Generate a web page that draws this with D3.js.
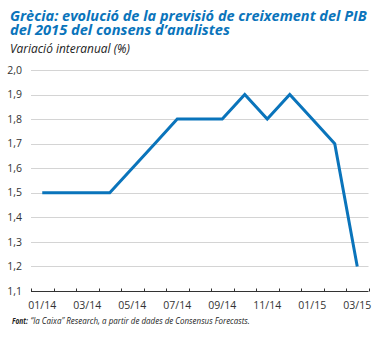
<!DOCTYPE html>
<html>
<head>
<meta charset="utf-8">
<script src="https://cdn.jsdelivr.net/npm/d3@7"></script>
<style>
  body { margin: 0; background: #fff; }
  text { font-family: "Open Sans", "Noto Sans", sans-serif; }
</style>
</head>
<body>
<div id="chart"></div>
<script>
// months on the x axis (band per month)
var months = ["01/14", "02/14", "03/14", "04/14", "05/14", "06/14", "07/14", "08/14",
  "09/14", "10/14", "11/14", "12/14", "01/15", "02/15", "03/15"];
// consensus forecast, % year on year
var forecast = [1.5, 1.5, 1.5, 1.5, 1.6, 1.7, 1.8, 1.8, 1.8, 1.9, 1.8, 1.9, 1.8, 1.7, 1.2];
var yTicks = [1.1, 1.2, 1.3, 1.4, 1.5, 1.6, 1.7, 1.8, 1.9, 2.0];
var xLabels = ["01/14", "03/14", "05/14", "07/14", "09/14", "11/14", "01/15", "03/15"];

var svgWidth = 380, svgHeight = 338;
var margin = { top: 70, right: 11.5, bottom: 47, left: 31 };
var width = svgWidth - margin.left - margin.right;
var height = svgHeight - margin.top - margin.bottom;

var blue = "#0a74bb";

var svg = d3.select("#chart").append("svg")
  .attr("width", svgWidth)
  .attr("height", svgHeight);

// squeeze a text horizontally to a target width (the original uses a condensed face)
function condensed(x0, y0, w, size, weight, style, fill, str) {
  var t = svg.append("text")
    .attr("font-size", size)
    .attr("font-weight", weight)
    .attr("font-style", style)
    .attr("fill", fill)
    .text(str);
  var natural = t.node().getComputedTextLength();
  t.attr("transform", `translate(${x0}, ${y0}) scale(${w / natural}, 1)`);
  return t;
}

// title + subtitle
condensed(10, 20.5, 357, 15, 700, "italic", blue, "Grècia: evolució de la previsió de creixement del PIB");
condensed(10, 34.5, 220, 15, 700, "italic", blue, "del 2015 del consens d’analistes");
condensed(10, 53, 120, 12.5, 400, "italic", "#222", "Variació interanual (%)");

var chartGroup = svg.append("g")
  .attr("transform", `translate(${margin.left}, ${margin.top})`);

var x = d3.scaleBand().domain(months).range([0, width]);
var y = d3.scaleLinear().domain([1.1, 2.0]).range([height, 0]);

// gridlines
chartGroup.append("g")
  .selectAll("line")
  .data(yTicks.filter(d => d > 1.1))
  .enter()
  .append("line")
  .attr("x1", 0)
  .attr("x2", width)
  .attr("y1", d => Math.round(y(d)) + 0.5)
  .attr("y2", d => Math.round(y(d)) + 0.5)
  .attr("stroke", "#d4d4d4")
  .attr("stroke-width", 1);

// y tick labels
chartGroup.append("g")
  .selectAll("text")
  .data(yTicks)
  .enter()
  .append("text")
  .attr("x", -9)
  .attr("y", d => y(d))
  .attr("dy", "0.35em")
  .attr("text-anchor", "end")
  .attr("font-size", 10.5)
  .attr("fill", "#333")
  .text(d => d.toFixed(1).replace(".", ","));

// x axis: line + ticks at month boundaries
var axisY = Math.round(height) + 0.5;
chartGroup.append("line")
  .attr("x1", 0).attr("x2", width)
  .attr("y1", axisY).attr("y2", axisY)
  .attr("stroke", "#333").attr("stroke-width", 1);
var bounds = months.map(m => x(m)).concat([width]);
chartGroup.append("g")
  .selectAll("line")
  .data(bounds)
  .enter()
  .append("line")
  .attr("x1", d => Math.round(d) + 0.5)
  .attr("x2", d => Math.round(d) + 0.5)
  .attr("y1", axisY)
  .attr("y2", axisY - 3)
  .attr("stroke", "#333");

chartGroup.append("g")
  .selectAll("text")
  .data(xLabels)
  .enter()
  .append("text")
  .attr("x", d => x(d) + x.bandwidth() / 2)
  .attr("y", height + 18)
  .attr("text-anchor", "middle")
  .attr("font-size", 10.5)
  .attr("fill", "#333")
  .text(d => d);

// the forecast line
var line = d3.line()
  .x((d, i) => x(months[i]) + x.bandwidth() / 2)
  .y(d => y(d));

chartGroup.append("path")
  .datum(forecast)
  .attr("d", line)
  .attr("fill", "none")
  .attr("stroke", blue)
  .attr("stroke-width", 3)
  .attr("stroke-linejoin", "miter");

// source note
condensed(12, 324, 16, 9.5, 700, "italic", "#222", "Font:");
condensed(30.5, 324, 219.5, 9.5, 400, "italic", "#222", "“la Caixa” Research, a partir de dades de Consensus Forecasts.");
</script>
</body>
</html>
